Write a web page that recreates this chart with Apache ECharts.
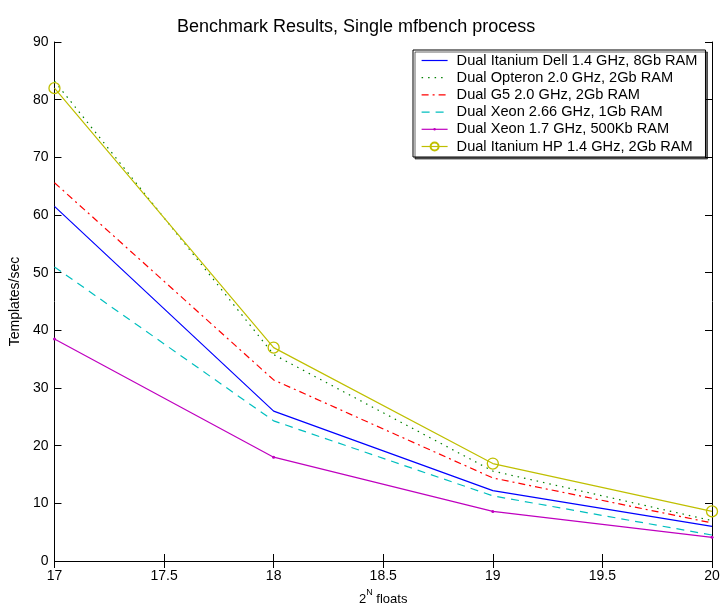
<!DOCTYPE html>
<html>
<head>
<meta charset="utf-8">
<script src="https://cdn.jsdelivr.net/npm/echarts@6/dist/echarts.min.js"></script>
<style>html,body{margin:0;padding:0;background:#fff}#c{width:724px;height:611px}</style>
</head>
<body>
<div id="c"></div>
<script>
var xValues = [17, 18, 19, 20];
var seriesNames = [
  'Dual Itanium Dell 1.4 GHz, 8Gb RAM',
  'Dual Opteron 2.0 GHz, 2Gb RAM',
  'Dual G5 2.0 GHz, 2Gb RAM',
  'Dual Xeon 2.66 GHz, 1Gb RAM',
  'Dual Xeon 1.7 GHz, 500Kb RAM',
  'Dual Itanium HP 1.4 GHz, 2Gb RAM'
];
var itaniumDell = [61.5, 26.0, 12.2, 6.0];
var opteron = [83.2, 35.8, 15.6, 7.0];
var g5 = [65.6, 31.4, 14.4, 6.6];
var xeon266 = [51.0, 24.3, 11.3, 4.5];
var xeon17 = [38.5, 18.0, 8.6, 4.1];
var itaniumHP = [82.0, 37.0, 16.9, 8.6];
var xTicks = [17, 17.5, 18, 18.5, 19, 19.5, 20];
var yTicks = [0, 10, 20, 30, 40, 50, 60, 70, 80, 90];

var FONT = 'Liberation Sans, Arial, Helvetica, sans-serif';
function pairs(v){ return xValues.map(function(x,i){ return [x, v[i]]; }); }

var DOT = 'path://M0,0M10,10M3.5,5A1.5,1.5,0,1,0,6.5,5A1.5,1.5,0,1,0,3.5,5Z';

var styles = [
  {color:'#0000ff', type:'solid', symbol:'none'},
  {color:'#008000', type:[1.5,5], symbol:'none'},
  {color:'#ff0000', type:[7,4,2,4], symbol:'none'},
  {color:'#00bfbf', type:[8,6], symbol:'none'},
  {color:'#bf00bf', type:'solid', symbol:DOT, size:10, fill:'#bf00bf'},
  {color:'#bfbf00', type:'solid', symbol:'circle', size:11, fill:'hollow'}
];
var data = [itaniumDell, opteron, g5, xeon266, xeon17, itaniumHP];

var series = data.map(function(d, i){
  var s = styles[i];
  var hasSym = s.symbol !== 'none';
  return {
    name: seriesNames[i],
    type: 'line',
    data: pairs(d),
    symbol: s.symbol,
    symbolSize: s.size || 0,
    showSymbol: hasSym,
    animation: false,
    lineStyle: {color: s.color, width: 1.2, type: s.type},
    itemStyle: !hasSym ? {color: 'rgba(0,0,0,0)', borderWidth: 0}
      : (s.fill === 'hollow' ? {color: 'rgba(0,0,0,0)', borderColor: s.color, borderWidth: 1.3}
      : {color: s.color, borderWidth: 0}),
    emphasis: {disabled: true}
  };
});

var axisCommon = {
  axisLine: {show: true, lineStyle: {color: '#000', width: 1}},
  axisTick: {show: true, inside: true, length: 7, lineStyle: {color: '#000'}},
  splitLine: {show: false}
};

var chart = echarts.init(document.getElementById('c'));
chart.setOption({
  backgroundColor: '#fff',
  animation: false,
  title: {
    text: 'Benchmark Results, Single mfbench process',
    left: 172, top: 13,
    textStyle: {fontFamily: FONT, fontSize: 18, fontWeight: 'normal', color: '#000'}
  },
  grid: {left: 50, right: 12, top: 42, bottom: 49},
  legend: {
    orient: 'vertical',
    left: 413, top: 50,
    padding: [3, 8, 3, 8],
    itemGap: 2.2,
    itemWidth: 26,
    itemHeight: 10,
    borderColor: '#000', borderWidth: 1,
    backgroundColor: '#fff',
    shadowColor: 'rgba(0,0,0,0.6)', shadowBlur: 0, shadowOffsetX: 2, shadowOffsetY: 2,
    lineStyle: {width: 1.2},
    textStyle: {fontFamily: FONT, fontSize: 14.6, color: '#000', padding: [0,0,0,4]},
    data: seriesNames
  },
  xAxis: [
    Object.assign({
      type: 'value', min: 17, max: 20, interval: 0.5,
      name: '{b|2}{s|N}{b| floats}',
      nameLocation: 'middle', nameGap: 27,
      nameTextStyle: {fontFamily: FONT, color: '#000', rich: {
        b: {fontFamily: FONT, fontSize: 13, color: '#000', lineHeight: 18, verticalAlign: 'bottom'},
        s: {fontFamily: FONT, fontSize: 9, color: '#000', lineHeight: 18, verticalAlign: 'top'}
      }},
      axisLabel: {fontFamily: FONT, fontSize: 14, color: '#000', margin: 8,
        formatter: function(v){ return xTicks.indexOf(v) >= 0 ? String(v) : ''; }}
    }, axisCommon),
    Object.assign({
      type: 'value', min: 17, max: 20, interval: 0.5, position: 'top',
      axisLabel: {show: false}
    }, axisCommon)
  ],
  yAxis: [
    Object.assign({
      type: 'value', min: 0, max: 90, interval: 10,
      name: 'Templates/sec',
      nameLocation: 'middle', nameGap: 27,
      nameTextStyle: {fontFamily: FONT, fontSize: 14, color: '#000'},
      axisLabel: {fontFamily: FONT, fontSize: 14, color: '#000', margin: 6,
        formatter: function(v){ return yTicks.indexOf(v) >= 0 ? String(v) : ''; }}
    }, axisCommon),
    Object.assign({
      type: 'value', min: 0, max: 90, interval: 10, position: 'right',
      axisLabel: {show: false}
    }, axisCommon)
  ],
  series: series
});
</script>
</body>
</html>
